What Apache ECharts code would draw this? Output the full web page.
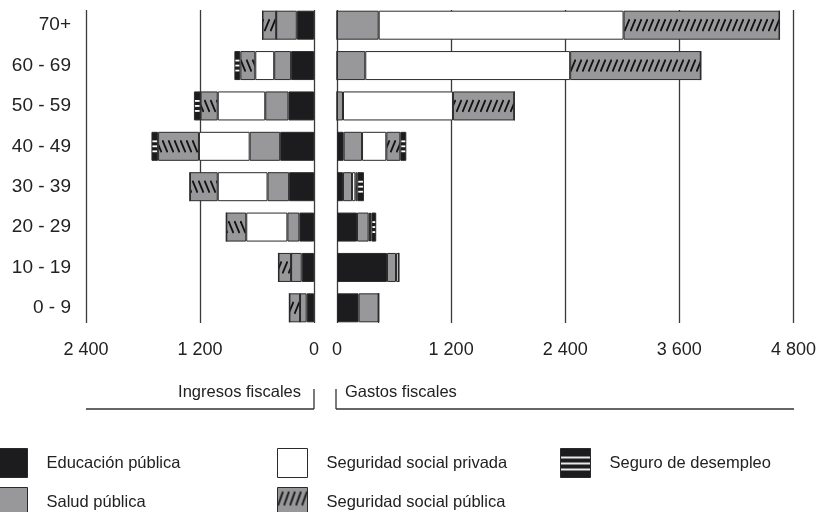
<!DOCTYPE html>
<html>
<head>
<meta charset="utf-8">
<script src="https://cdn.jsdelivr.net/npm/echarts@6/dist/echarts.min.js"></script>
<style>html,body{margin:0;padding:0;background:#fff}#c{width:819px;height:512px}</style>
</head>
<body>
<div id="c"></div>
<script>
// ---------- DATA ----------
const categories = ['0 - 9', '10 - 19', '20 - 29', '30 - 39', '40 - 49', '50 - 59', '60 - 69', '70+'];
const seriesNames = ['Educación pública', 'Salud pública', 'Seguridad social privada', 'Seguridad social pública', 'Seguro de desempleo'];

// Ingresos fiscales (left panel)
const ingresosEducacion  = [77, 129, 154, 262, 356, 269, 241, 181];
const ingresosSalud      = [70, 112, 126, 227, 321, 244, 178, 217];
const ingresosSegPrivada = [0, 0, 433, 524, 534, 500, 199, 0];
const ingresosSegPublica = [112, 133, 210, 293, 430, 181, 157, 144];
const ingresosDesempleo  = [0, 0, 0, 0, 70, 70, 63, 0];

// Gastos fiscales (right panel)
const gastosEducacion  = [227, 525, 210, 63, 70, 0, 0, 0];
const gastosSalud      = [210, 95, 122, 95, 193, 63, 297, 438];
const gastosSegPrivada = [0, 28, 15, 35, 255, 1155, 2152, 2572];
const gastosSegPublica = [0, 0, 15, 20, 147, 644, 1372, 1638];
const gastosDesempleo  = [0, 0, 50, 70, 63, 0, 0, 0];

const ingresosTicks = [0, 1200, 2400];
const gastosTicks = [0, 1200, 2400, 3600, 4800];
const panelTitles = ['Ingresos fiscales', 'Gastos fiscales'];

// ---------- STYLE ----------
const BLACK = '#1c1c1e', GRAY = '#98989b', BORDER = '#2a2a2a', TXT = '#222';
const FONT = '"Liberation Sans", Arial, Helvetica, sans-serif';
const leftBackslashRows = [2, 3, 4, 5, 6];

const chart = echarts.init(document.getElementById('c'), null, {renderer: 'canvas'});

function fmt(v) { return String(v).replace(/\B(?=(\d{3})+(?!\d))/g, ' '); }

function makeHatch(centers, dir, h, half) {
  const cv = document.createElement('canvas');
  cv.width = 6; cv.height = h;
  const ctx = cv.getContext('2d');
  ctx.fillStyle = GRAY; ctx.fillRect(0, 0, 6, h);
  ctx.strokeStyle = '#111'; ctx.lineWidth = 1.8;
  centers.forEach(c => {
    ctx.beginPath();
    if (dir > 0) { ctx.moveTo(0.5, c + half); ctx.lineTo(5.5, c - half); }
    else { ctx.moveTo(0.5, c - half); ctx.lineTo(5.5, c + half); }
    ctx.stroke();
  });
  return {image: cv, repeat: 'repeat'};
}
function makeStripes(ys, h) {
  const cv = document.createElement('canvas');
  cv.width = 6; cv.height = h;
  const ctx = cv.getContext('2d');
  ctx.fillStyle = BLACK; ctx.fillRect(0, 0, 6, h);
  ctx.fillStyle = '#fff';
  ys.forEach(y => ctx.fillRect(0, y - 0.9, 6, 1.8));
  return {image: cv, repeat: 'repeat'};
}

function buildOption(p) {
  const base = {type: 'bar', barWidth: 29, silent: true};
  const colors = [BLACK, GRAY, '#ffffff', p.hatchFwd, p.stripes];
  const leftData = [ingresosEducacion, ingresosSalud, ingresosSegPrivada, ingresosSegPublica, ingresosDesempleo];
  const rightData = [gastosEducacion, gastosSalud, gastosSegPrivada, gastosSegPublica, gastosDesempleo];
  const series = [];
  seriesNames.forEach((name, k) => {
    let ld = leftData[k];
    if (k === 3) {
      ld = ld.map((v, i) => ({value: v, itemStyle: {color: leftBackslashRows.includes(i) ? p.hatchBack : p.hatchFwd}}));
    }
    series.push(Object.assign({}, base, {name, xAxisIndex: 0, yAxisIndex: 0, stack: 'L', data: ld,
      itemStyle: {color: colors[k], borderColor: BORDER, borderWidth: 1}}));
  });
  seriesNames.forEach((name, k) => {
    series.push(Object.assign({}, base, {name, xAxisIndex: 1, yAxisIndex: 1, stack: 'R', data: rightData[k],
      itemStyle: {color: colors[k], borderColor: BORDER, borderWidth: 1}}));
  });
  const legendCommon = {orient: 'vertical', top: 448, height: 120, padding: 0, itemWidth: 30, itemHeight: 29, itemGap: 9,
    icon: 'rect', selectedMode: false,
    textStyle: {fontSize: 16.5, color: TXT, fontFamily: FONT, padding: [0, 0, 0, 14]}};
  const lg = (name, color) => ({name, icon: 'rect', itemStyle: {color, borderColor: BORDER, borderWidth: 1}});
  const splitStyle = {show: true, lineStyle: {color: '#3a3a3a', width: 1.3}};
  return {
    animation: false,
    backgroundColor: '#fff',
    textStyle: {fontFamily: FONT},
    grid: [
      {left: 86, width: 228, top: 5, height: 323},
      {left: 337, width: 457, top: 5, height: 323},
      {left: 86, width: 228, top: 10, height: 313},
      {left: 337, width: 457, top: 10, height: 313}
    ],
    xAxis: [
      {gridIndex: 0, type: 'value', inverse: true, min: ingresosTicks[0], max: ingresosTicks[ingresosTicks.length - 1], interval: ingresosTicks[1] - ingresosTicks[0], show: false},
      {gridIndex: 1, type: 'value', min: gastosTicks[0], max: gastosTicks[gastosTicks.length - 1], interval: gastosTicks[1] - gastosTicks[0], show: false},
      {gridIndex: 2, type: 'value', inverse: true, min: ingresosTicks[0], max: ingresosTicks[ingresosTicks.length - 1], interval: ingresosTicks[1] - ingresosTicks[0],
        axisLine: {show: false}, axisTick: {show: false}, splitLine: splitStyle,
        axisLabel: {fontSize: 18, color: TXT, margin: 18, formatter: fmt}},
      {gridIndex: 3, type: 'value', min: gastosTicks[0], max: gastosTicks[gastosTicks.length - 1], interval: gastosTicks[1] - gastosTicks[0],
        axisLine: {show: false}, axisTick: {show: false}, splitLine: splitStyle,
        axisLabel: {fontSize: 18, color: TXT, margin: 18, formatter: fmt}}
    ],
    yAxis: [
      {gridIndex: 0, type: 'category', data: categories, position: 'left',
        axisLine: {show: false}, axisTick: {show: false}, splitLine: {show: false},
        axisLabel: {fontSize: 19, color: TXT, margin: 15}},
      {gridIndex: 1, type: 'category', data: categories, show: false},
      {gridIndex: 2, type: 'value', min: 0, max: 1, show: false},
      {gridIndex: 3, type: 'value', min: 0, max: 1, show: false}
    ],
    legend: [
      Object.assign({}, legendCommon, {left: -3, data: [lg(seriesNames[0], BLACK), lg(seriesNames[1], GRAY)]}),
      Object.assign({}, legendCommon, {left: 277, data: [lg(seriesNames[2], '#ffffff'), lg(seriesNames[3], p.legendHatch)]}),
      Object.assign({}, legendCommon, {left: 560, data: [lg(seriesNames[4], p.legendStripes)]})
    ],
    graphic: [
      {type: 'text', x: 301, y: 392, silent: true,
        style: {text: panelTitles[0], align: 'right', verticalAlign: 'middle', fontSize: 16.5, fill: TXT, fontFamily: FONT}},
      {type: 'text', x: 345, y: 392, silent: true,
        style: {text: panelTitles[1], align: 'left', verticalAlign: 'middle', fontSize: 16.5, fill: TXT, fontFamily: FONT}},
      {type: 'line', silent: true, shape: {x1: 314, y1: 389, x2: 314, y2: 409}, style: {stroke: '#333', lineWidth: 1.3}},
      {type: 'line', silent: true, shape: {x1: 86, y1: 409, x2: 314, y2: 409}, style: {stroke: '#333', lineWidth: 1.3}},
      {type: 'line', silent: true, shape: {x1: 336, y1: 389, x2: 336, y2: 409}, style: {stroke: '#333', lineWidth: 1.3}},
      {type: 'line', silent: true, shape: {x1: 336, y1: 409, x2: 794, y2: 409}, style: {stroke: '#333', lineWidth: 1.3}}
    ],
    series
  };
}

const placeholder = {hatchFwd: GRAY, hatchBack: GRAY, stripes: BLACK, legendHatch: GRAY, legendStripes: BLACK};
chart.setOption(buildOption(placeholder));

const centers = categories.map(c => chart.convertToPixel({yAxisIndex: 0}, c));
const H = 512;
const patterns = {
  hatchFwd: makeHatch(centers, 1, H, 6),
  hatchBack: makeHatch(centers, -1, H, 6),
  stripes: makeStripes(centers.flatMap(c => [c - 5, c, c + 5]), H),
  legendHatch: makeHatch([11], 1, 29, 7),
  legendStripes: makeStripes([9, 15, 21], 29)
};
chart.setOption(buildOption(patterns));
</script>
</body>
</html>
